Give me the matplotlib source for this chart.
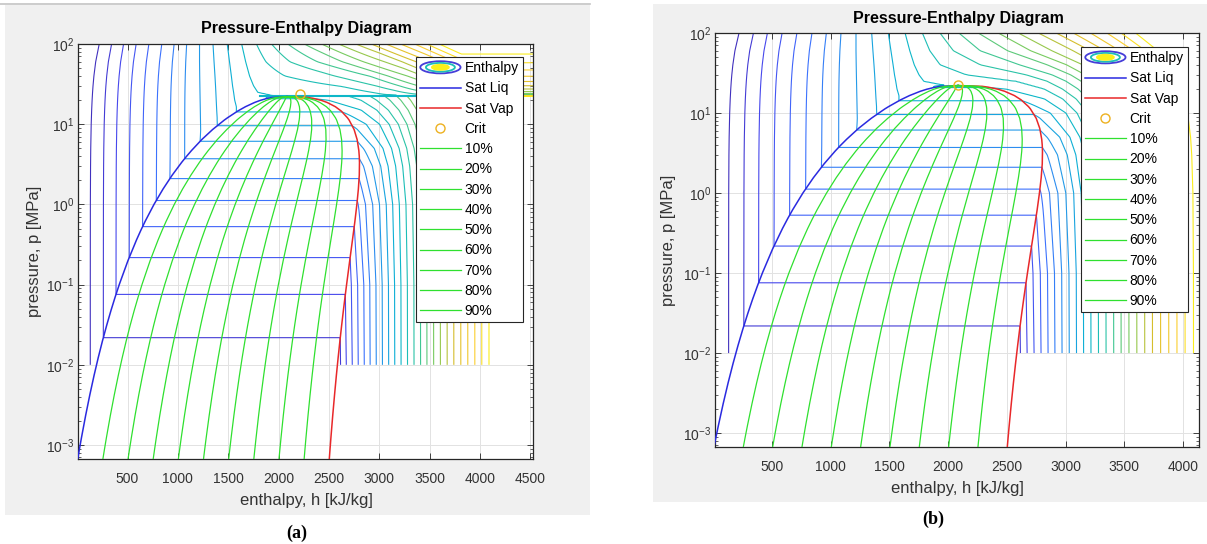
import numpy as np
import matplotlib
matplotlib.use('Agg')
import matplotlib.pyplot as plt
from matplotlib.colors import LinearSegmentedColormap, Normalize
from matplotlib.patches import Ellipse, Rectangle
from matplotlib.legend_handler import HandlerBase
from matplotlib.lines import Line2D
from matplotlib.ticker import LogLocator, NullFormatter

plt.rcParams['font.family'] = ['Liberation Sans', 'DejaVu Sans']
plt.rcParams['mathtext.fontset'] = 'custom'
plt.rcParams['mathtext.rm'] = 'Liberation Sans'
plt.rcParams['mathtext.it'] = 'Liberation Sans:italic'
plt.rcParams['mathtext.bf'] = 'Liberation Sans:bold'

# saturation line of water: T [C], p [MPa], hf / hg [kJ/kg]
T_SAT = [0.01, 5, 10, 20, 30, 40, 50, 60, 70, 80, 90, 100, 120, 140, 150, 160,
         180, 200, 220, 240, 250, 260, 280, 300, 320, 325, 340, 350, 360, 365,
         370, 372, 373.95]
P_SAT = [0.0006117, 0.0008725, 0.0012281, 0.0023392, 0.0042469, 0.0073851,
         0.012352, 0.019946, 0.031201, 0.047414, 0.070182, 0.10142, 0.19867,
         0.36153, 0.47616, 0.61823, 1.0028, 1.5549, 2.3196, 3.3469, 3.9762,
         4.6923, 6.4199, 8.5879, 11.284, 12.05, 14.601, 16.529, 18.666, 19.822,
         21.044, 21.55, 22.064]
HF_SAT = [0.001, 21.02, 42.02, 83.91, 125.74, 167.53, 209.34, 251.18, 293.07,
          335.02, 377.04, 419.17, 503.81, 589.16, 632.18, 675.47, 763.05, 852.26,
          943.55, 1037.5, 1085.7, 1134.8, 1236.1, 1344.8, 1461.8, 1493.6, 1594.5,
          1670.9, 1761.7, 1817.6, 1890.7, 1935.0, 2084.3]
HG_SAT = [2500.9, 2510.1, 2519.2, 2537.4, 2555.6, 2573.5, 2591.3, 2608.8, 2626.1,
          2643.0, 2659.6, 2675.6, 2706.0, 2733.5, 2745.9, 2757.7, 2777.2, 2792.0,
          2801.1, 2803.0, 2800.9, 2796.6, 2779.9, 2749.6, 2699.6, 2683.0, 2621.3,
          2563.6, 2482.0, 2424.6, 2340.2, 2290.0, 2084.3]

# enthalpy table h(T, p) used for the isotherm field
P_COL = [0.01, 0.1, 1, 3, 5, 10, 15, 20, 25, 30, 40, 60, 100]
T_ROW = [20, 50, 100, 150, 200, 250, 300, 325, 350, 365, 375, 400, 425, 450,
         500, 600, 700, 800]
H_TAB = [
    [84.0, 84.0, 84.8, 86.7, 88.6, 93.3, 98.0, 102.6, 107.2, 111.8, 120.9, 139.0, 175.0],
    [2592.0, 209.4, 210.2, 212.0, 213.8, 218.1, 222.5, 226.8, 231.1, 235.4, 243.9, 260.8, 294.0],
    [2687.5, 2675.8, 419.9, 421.3, 422.9, 426.6, 430.4, 434.2, 438.0, 441.8, 449.2, 463.7, 492.0],
    [2783.0, 2776.6, 632.5, 633.8, 634.9, 638.0, 641.2, 644.4, 647.5, 650.8, 657.2, 670.0, 695.0],
    [2879.6, 2875.5, 2828.3, 853.0, 853.7, 855.8, 858.0, 860.3, 862.7, 865.2, 870.5, 881.0, 902.0],
    [2977.5, 2974.5, 2943.1, 2856.5, 1085.8, 1086.1, 1086.5, 1087.1, 1087.9, 1088.9, 1090.8, 1094.8, 1103.0],
    [3076.7, 3074.5, 3051.6, 2994.3, 2925.7, 1343.0, 1338.2, 1334.4, 1331.1, 1328.3, 1323.7, 1317.0, 1310.0],
    [3127.0, 3125.2, 3104.9, 3055.6, 3000.3, 2810.3, 1485.0, 1478.0, 1474.0, 1470.0, 1462.0, 1448.0, 1430.0],
    [3177.4, 3175.8, 3158.2, 3116.1, 3069.3, 2924.0, 2693.1, 1643.0, 1626.0, 1610.0, 1594.0, 1572.0, 1545.0],
    [3207.8, 3206.4, 3190.4, 3153.0, 3112.0, 2994.0, 2800.0, 1810.0, 1755.0, 1725.0, 1690.0, 1655.0, 1615.0],
    [3228.3, 3227.0, 3211.3, 3176.0, 3135.0, 3015.0, 2850.0, 2602.2, 1847.4, 1790.9, 1742.6, 1699.5, 1660.0],
    [3280.0, 3278.6, 3264.5, 3231.7, 3196.7, 3097.5, 2975.7, 2816.9, 2578.7, 2152.8, 1931.4, 1843.4, 1780.0],
    [3332.0, 3330.7, 3317.5, 3288.0, 3258.0, 3172.0, 3068.0, 2943.0, 2806.3, 2614.2, 2198.1, 2001.7, 1900.0],
    [3384.4, 3383.1, 3371.3, 3344.6, 3317.2, 3242.4, 3157.9, 3061.7, 2950.6, 2821.0, 2512.8, 2179.0, 2025.0],
    [3489.7, 3488.7, 3479.1, 3457.0, 3434.7, 3375.1, 3310.8, 3241.2, 3165.9, 3084.8, 2906.5, 2567.9, 2300.0],
    [3706.3, 3705.6, 3698.6, 3682.8, 3666.9, 3625.8, 3583.1, 3539.0, 3492.0, 3443.0, 3350.4, 3151.2, 2850.0],
    [3929.9, 3929.4, 3923.7, 3911.8, 3900.3, 3870.0, 3839.1, 3807.8, 3776.0, 3744.0, 3679.2, 3553.5, 3320.0],
    [4160.6, 4160.2, 4156.1, 4146.9, 4137.7, 4114.5, 4091.1, 4067.5, 4043.9, 4020.0, 3972.6, 3889.1, 3720.0],
]

# contour levels of the isotherms [C]
T_LEVELS = [31, 62, 92, 123, 154, 185, 215, 246, 277, 308, 338, 369, 400, 431,
            462, 492, 523, 554, 585, 615, 646, 677, 708, 738, 769]
T_RANGE = (0, 800)

QUALITIES = [0.1, 0.2, 0.3, 0.4, 0.5, 0.6, 0.7, 0.8, 0.9]
Q_LABELS = ['10%', '20%', '30%', '40%', '50%', '60%', '70%', '80%', '90%']

CRIT_A = (2210, 23.5)
CRIT_B = (2084, 22.6)
# run (a): flat critical isobar (h from, h to, p) and bend of the supercritical lines
FLAT_A = (1820, 4100, 22.3)
T_FLAT_A = 369
BEND_A = 0.35

XLIM_A = (8, 4526)
XLIM_B = (14, 4136)
XTICKS_A = [500, 1000, 1500, 2000, 2500, 3000, 3500, 4000, 4500]
XTICKS_B = [500, 1000, 1500, 2000, 2500, 3000, 3500, 4000]
YLIM = (6.7e-4, 100)

PARULA = [(0.2422, 0.1504, 0.6603), (0.2803, 0.2782, 0.9221), (0.2440, 0.4358, 0.9988),
          (0.1540, 0.5902, 0.9218), (0.0297, 0.7082, 0.8163), (0.1938, 0.7758, 0.6251),
          (0.5044, 0.7993, 0.3480), (0.8634, 0.7406, 0.1596), (0.9892, 0.8136, 0.1885),
          (0.9769, 0.9839, 0.0805)]
parula = LinearSegmentedColormap.from_list('parula', PARULA)
norm = Normalize(*T_RANGE)

LIQ_COLOR = '#2a2ae0'
VAP_COLOR = '#e8282a'
CRIT_COLOR = '#edb120'
Q_COLOR = '#2fe02f'
PANEL_GRAY = '#f0f0f0'

W, H = 1207, 544

lt_sat = np.log10(P_SAT)
lp_col = np.log10(P_COL)


def row_h(i, p):
    # enthalpy of table row i at pressure p, kept on the row's own phase
    T = T_ROW[i]
    row = np.array(H_TAB[i])
    lp = np.log10(p)
    if T >= T_SAT[-1]:
        return np.interp(lp, lp_col, row)
    lps = np.interp(T, T_SAT, lt_sat)
    hf = np.interp(T, T_SAT, HF_SAT)
    hg = np.interp(T, T_SAT, HG_SAT)
    if lp < lps:
        m = lp_col < lps
        xs = np.append(lp_col[m], lps)
        ys = np.append(row[m], hg)
    else:
        m = lp_col > lps
        xs = np.insert(lp_col[m], 0, lps)
        ys = np.insert(row[m], 0, hf)
    return np.interp(lp, xs, ys)


def temperature_field(h, p):
    T = np.empty((len(p), len(h)))
    for j, pj in enumerate(p):
        hk = [row_h(i, pj) for i in range(len(T_ROW))]
        tk = list(T_ROW)
        if pj < P_SAT[-1]:
            lp = np.log10(pj)
            ts = np.interp(lp, lt_sat, T_SAT)
            hk += [np.interp(lp, lt_sat, HF_SAT), np.interp(lp, lt_sat, HG_SAT) + 1e-6]
            tk += [ts, ts]
        order = np.argsort(hk)
        hs = np.array(hk)[order]
        ts_ = np.maximum.accumulate(np.array(tk, float)[order])
        T[j] = np.interp(h, hs, ts_)
    return T


h_grid = np.linspace(0, 4600, 700)
p_grid = np.logspace(-2, 2, 320)
T_b = temperature_field(h_grid, p_grid)

# run (a): supercritical isotherms flatten onto the critical isobar
T_a = T_b.copy()
P2 = np.repeat(p_grid[:, None], len(h_grid), axis=1)
above = P2 > FLAT_A[2]
s = np.zeros_like(P2)
s[above] = np.log10(P2[above] / FLAT_A[2]) / np.log10(100 / FLAT_A[2])
bend = above & (T_b > T_FLAT_A)
T_a[bend] = T_FLAT_A + (T_b[bend] - T_FLAT_A) * s[bend] ** BEND_A


class ContourKey:
    pass


class ContourIcon(HandlerBase):
    def create_artists(self, legend, orig, xd, yd, w, h, fs, trans):
        cx, cy = xd + w / 2, yd + h / 2
        out = []
        for k, c, fill in [(1.0, parula(0.08), False), (0.72, parula(0.5), False),
                           (0.42, parula(0.97), True)]:
            e = Ellipse((cx, cy), w * k, h * 1.25 * k, fill=fill, facecolor=c,
                        edgecolor=c, lw=1.3, transform=trans)
            out.append(e)
        return out


fig = plt.figure(figsize=(W / 100, H / 100), dpi=100)
fig.patch.set_facecolor('white')

# grey figure panels
fig.patches.append(Rectangle((5 / W, 1 - 515 / H), 585 / W, 510 / H, transform=fig.transFigure,
                             facecolor=PANEL_GRAY, edgecolor='none', zorder=-5))
fig.patches.append(Rectangle((653 / W, 1 - 502 / H), 554 / W, 498 / H, transform=fig.transFigure,
                             facecolor=PANEL_GRAY, edgecolor='none', zorder=-5))
fig.lines.append(Line2D([0, 590 / W], [1 - 4 / H, 1 - 4 / H], transform=fig.transFigure,
                        color='#c4c4c4', lw=1.2))


def draw_panel(rect, T, xlim, xticks, crit, leg_anchor, flat=None):
    ax = fig.add_axes([rect[0] / W, 1 - rect[3] / H, (rect[2] - rect[0]) / W, (rect[3] - rect[1]) / H])
    ax.contour(h_grid, p_grid, T, levels=T_LEVELS, cmap=parula, norm=norm,
               linewidths=0.8, zorder=2)
    if flat is not None:
        ax.plot([flat[0], flat[1]], [flat[2], flat[2]], color=parula(norm(T_FLAT_A)),
                lw=1.5, zorder=2)
    hf = np.array(HF_SAT)
    hg = np.array(HG_SAT)
    liq, = ax.plot(hf, P_SAT, color=LIQ_COLOR, lw=1.1, zorder=3)
    vap, = ax.plot(hg, P_SAT, color=VAP_COLOR, lw=1.1, zorder=3)
    cr, = ax.plot([crit[0]], [crit[1]], 'o', mfc='none', mec=CRIT_COLOR, ms=6.5,
                  mew=1.0, zorder=6, linestyle='none')
    qlines = []
    for x in QUALITIES:
        ql, = ax.plot(hf + x * (hg - hf), P_SAT, color=Q_COLOR, lw=0.9, zorder=4)
        qlines.append(ql)

    ax.set_yscale('log')
    ax.set_ylim(*YLIM)
    ax.set_xlim(*xlim)
    ax.set_xticks(xticks)
    ax.yaxis.set_major_locator(LogLocator(base=10, numticks=10))
    ax.yaxis.set_minor_locator(LogLocator(base=10, subs=np.arange(2, 10), numticks=20))
    ax.yaxis.set_minor_formatter(NullFormatter())
    ax.tick_params(which='both', direction='in', top=True, right=True, color='#262626',
                   labelcolor='#333333', labelsize=10)
    ax.tick_params(which='major', length=4.5, width=0.6)
    ax.tick_params(which='minor', length=2.5, width=0.5)
    ax.tick_params(axis='x', pad=9.5)
    ax.tick_params(axis='y', pad=2.5)
    ax.grid(True, which='major', color='#e2e2e2', lw=0.7)
    ax.set_axisbelow(True)
    for sp in ax.spines.values():
        sp.set_color('#262626')
        sp.set_linewidth(0.9)

    handles = [ContourKey(), liq, vap, cr] + qlines
    labels = ['Enthalpy', 'Sat Liq', 'Sat Vap', 'Crit'] + Q_LABELS
    leg = ax.legend(handles, labels, handler_map={ContourKey: ContourIcon()},
                    loc='upper right', bbox_to_anchor=leg_anchor, borderaxespad=0,
                    fontsize=10, handlelength=2.9, handletextpad=0.3, labelspacing=0.45,
                    borderpad=0.3, fancybox=False, framealpha=1, edgecolor='#262626')
    leg.get_frame().set_linewidth(0.8)
    leg.set_zorder(10)
    return ax


rect_a = (78, 44, 533, 459)
rect_b = (715, 33, 1199, 447)
draw_panel(rect_a, T_a, XLIM_A, XTICKS_A, CRIT_A,
           ((523 - 78) / 455, (459 - 57) / 415), flat=FLAT_A)
draw_panel(rect_b, T_b, XLIM_B, XTICKS_B, CRIT_B,
           ((1188 - 715) / 484, (447 - 47) / 414))


def ftext(x, y, s, **kw):
    fig.text(x / W, 1 - y / H, s, ha='center', va='center', **kw)


ftext(306, 29, 'Pressure-Enthalpy Diagram', fontsize=11.5, fontweight='bold', color='black')
ftext(958, 19, 'Pressure-Enthalpy Diagram', fontsize=11.5, fontweight='bold', color='black')
ftext(306, 501, 'enthalpy, h [kJ/kg]', fontsize=12, color='#333333')
ftext(957, 489, 'enthalpy, h [kJ/kg]', fontsize=12, color='#333333')
ftext(35, 251, 'pressure, p [MPa]', fontsize=12, color='#333333', rotation=90)
ftext(668, 240, 'pressure, p [MPa]', fontsize=12, color='#333333', rotation=90)
ftext(297, 533, '(a)', fontsize=13, fontweight='bold', family='Liberation Serif')
ftext(933, 519, '(b)', fontsize=13, fontweight='bold', family='Liberation Serif')

fig.savefig('out.png', dpi=100)
